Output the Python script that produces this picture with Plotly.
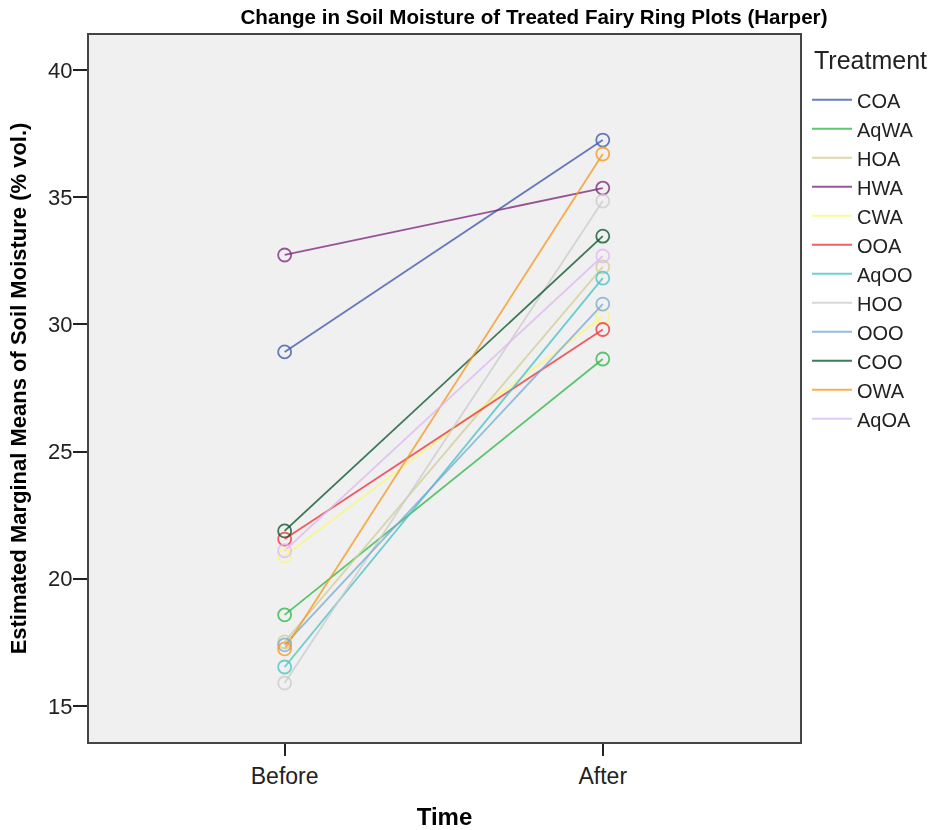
import plotly.graph_objects as go

times = ["Before", "After"]
treatments = ["COA", "AqWA", "HOA", "HWA", "CWA", "OOA", "AqOO", "HOO", "OOO", "COO", "OWA", "AqOA"]
before = [28.92, 18.58, 17.52, 32.73, 20.9, 21.56, 16.53, 15.9, 17.4, 21.88, 17.24, 21.1]
after = [37.25, 28.64, 32.26, 35.36, 30.3, 29.8, 31.82, 34.85, 30.8, 33.47, 36.7, 32.69]
colors = ["#3E58AC", "#2EB848", "#D3CE97", "#7C287D", "#FBF873", "#EF3338",
          "#48C2C5", "#CCCCCC", "#7AAAD5", "#0A562C", "#F8981D", "#DDBAF1"]

BOLD = "Liberation Sans Narrow, Arial Narrow, Liberation Sans, Arial"
REG = "Liberation Sans, Arial"

fig = go.Figure()
for name, b, a, c in zip(treatments, before, after, colors):
    fig.add_trace(go.Scatter(
        x=times, y=[b, a], name=name, mode="lines",
        line=dict(color=c, width=1.8), opacity=0.78,
    ))
for name, b, a, c in zip(treatments, before, after, colors):
    fig.add_trace(go.Scatter(
        x=times, y=[b, a], name=name, mode="markers", showlegend=False,
        marker=dict(symbol="circle-open", size=13, color=c, line=dict(width=1.8, color=c)),
        opacity=0.78,
    ))

fig.update_layout(
    width=933, height=830,
    margin=dict(l=89, r=133, t=35, b=88, autoexpand=False),
    paper_bgcolor="white", plot_bgcolor="#F0F0F0",
    title=dict(text="<b>Change in Soil Moisture of Treated Fairy Ring Plots (Harper)</b>",
               x=534 / 933, xanchor="center", y=1 - 17 / 830, yanchor="middle",
               font=dict(family=BOLD, size=20.6, color="black")),
    font=dict(family=REG, color="#222"),
    legend=dict(x=1 + 7 / 711, xanchor="left", y=0.936, yanchor="top",
                font=dict(size=20, color="#222"),
                bgcolor="rgba(0,0,0,0)", itemwidth=40),
    showlegend=True,
    annotations=[dict(text="Treatment", xref="paper", yref="paper",
                      x=1 + 12 / 711, xanchor="left", y=(742 - 60) / 707, yanchor="middle",
                      showarrow=False, font=dict(size=25, color="#222", family=REG))],
)
fig.update_xaxes(
    type="category", range=[-0.615, 1.62], automargin=False,
    showline=True, linecolor="#444", linewidth=2, mirror=True,
    ticks="outside", ticklen=12, tickcolor="#222", tickwidth=2,
    showgrid=False, zeroline=False,
    tickfont=dict(size=23, color="#222"),
    title=dict(text="<b>Time</b>", font=dict(size=24, color="black", family=BOLD), standoff=22),
)
fig.update_yaxes(
    range=[13.58, 41.38], tickvals=[15, 20, 25, 30, 35, 40], automargin=False,
    showline=True, linecolor="#444", linewidth=2, mirror=True,
    ticks="outside", ticklen=14, tickcolor="#222", tickwidth=1.5,
    showgrid=False, zeroline=False, ticklabelstandoff=-4,
    tickfont=dict(size=22, color="#222"),
    title=dict(text="<b>Estimated Marginal Means of Soil Moisture (% vol.)</b>",
               font=dict(size=22, color="black", family=BOLD), standoff=15),
)

fig.write_html("out.html", config={"displayModeBar": False},
               post_script="document.body.style.margin='0';")
